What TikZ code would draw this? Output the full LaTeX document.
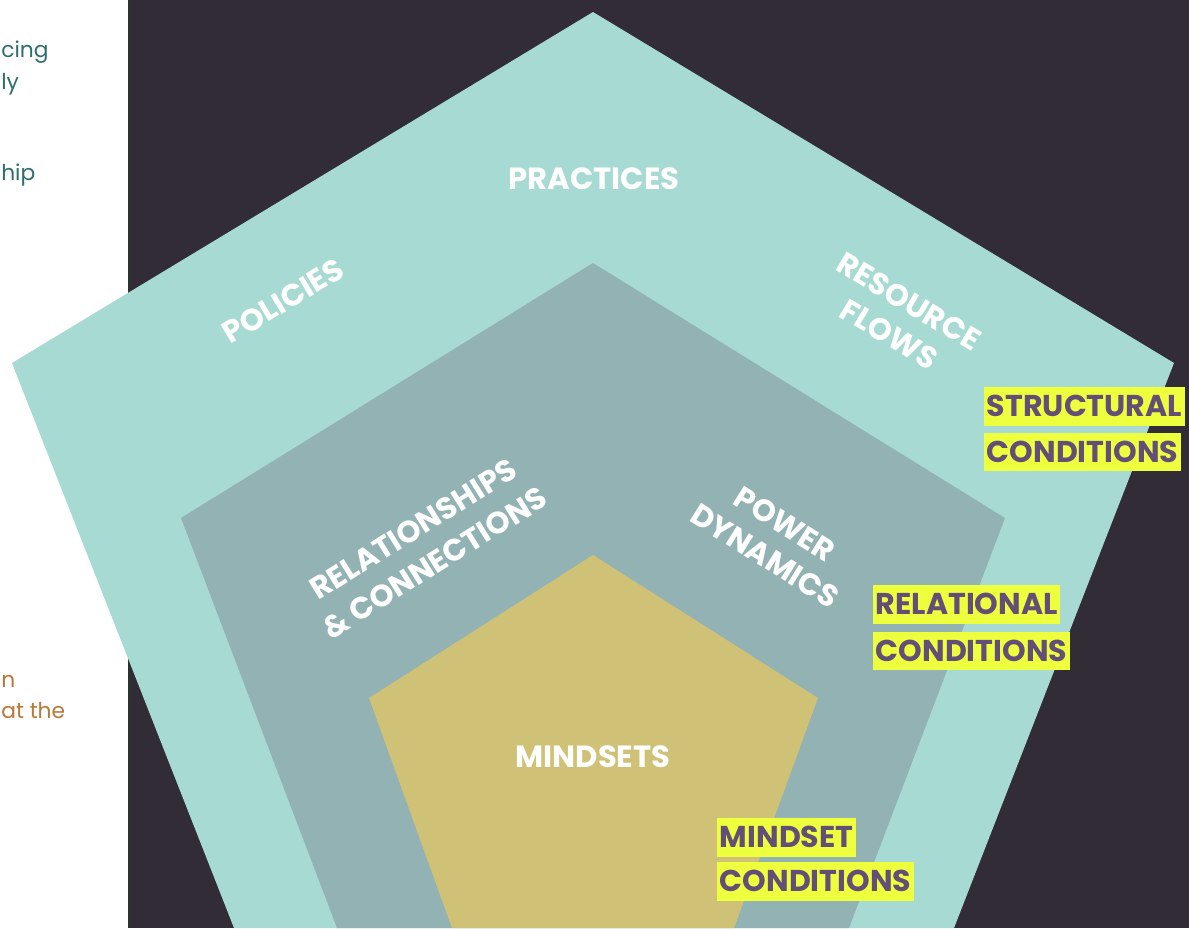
\documentclass[tikz,border=0pt]{standalone}
\usepackage{fontspec}
\setmainfont{Poppins}
\usetikzlibrary{positioning}

\definecolor{nightbg}{HTML}{322C37}
\definecolor{outerteal}{HTML}{A6DAD2}
\definecolor{midslate}{HTML}{93B2B4}
\definecolor{innergold}{HTML}{CFC276}
\definecolor{hlyellow}{HTML}{EDFF3D}
\definecolor{hlpurple}{HTML}{634E78}
\definecolor{noteteal}{HTML}{2F6E70}
\definecolor{noteochre}{HTML}{B8793A}
\definecolor{edgegreen}{HTML}{1F3A2C}

\tikzset{
  % Ring label: white caps set along a pentagon edge
  ringlabel/.style={text=white, align=center, inner sep=0pt,
                    font=\bfseries\fontsize{21.8}{27}\selectfont},
  % Condition tag: one highlighted line of text
  condtag/.style={fill=hlyellow, text=hlpurple, anchor=north west,
                  inner xsep=0.065cm, inner ysep=0.23cm,
                  text height=0.5cm, text depth=0pt,
                  font=\bfseries\fontsize{21.4}{24}\selectfont},
  % Running text of the page beside the figure
  sidenote/.style={anchor=base west, inner sep=0pt,
                   font=\fontsize{15.5}{18}\selectfont}
}

\begin{document}
\begin{tikzpicture}[x=0.025cm, y=-0.025cm]
\useasboundingbox (0,0) rectangle (1189,928);

% ============== Page and dark panel ==============
\fill[white] (0,0) rectangle (1189,928);
\fill[nightbg] (128,0) rectangle (1189,928);
\draw[edgegreen, line width=0.6pt] (128,0) -- (128,928);

\node[sidenote, text=noteteal] (noteA) at (1,57) {cing};
\node[sidenote, text=noteteal] (noteB) at (1,89) {ly};
\node[sidenote, text=noteteal] (noteC) at (1,180) {hip};
\node[sidenote, text=noteochre] (noteD) at (1,687) {n};
\node[sidenote, text=noteochre] (noteE) at (1,718) {at the};

% ============== Nested pentagons ==============
\fill[outerteal] (593,12) -- (1174,363) -- (954,928) -- (234,928) -- (12,363) -- cycle;
\fill[midslate] (593,263) -- (1005,518) -- (849,928) -- (337,928) -- (181,518) -- cycle;
\fill[innergold] (593,555) -- (818,698) -- (734,928) -- (452,928) -- (369,698) -- cycle;

% ============== Ring labels ==============
\node[ringlabel] (practices) at (594,179) {PRACTICES};
\node[ringlabel, rotate=31] (policies) at (283,301) {POLICIES};
\node[ringlabel, rotate=-31] (resflows) at (899,318) {RESOURCE\\FLOWS};
\node[ringlabel, rotate=32, font=\bfseries\fontsize{21.8}{28.5}\selectfont] (relconn) at (424,546) {RELATIONSHIPS\\\& CONNECTIONS};
\node[ringlabel, rotate=-32] (power) at (775,540) {POWER\\DYNAMICS};
\node[ringlabel] (mindsets) at (593,757) {MINDSETS};

% ============== Condition tags ==============
\node[condtag] (structA) at (984,387) {STRUCTURAL};
\node[condtag, below=0.17cm of structA.south west, anchor=north west] (structB) {CONDITIONS};

\node[condtag] (relA) at (873,585) {RELATIONAL};
\node[condtag, below=0.19cm of relA.south west, anchor=north west] (relB) {CONDITIONS};

\node[condtag] (mindA) at (717,818) {MINDSET};
\node[condtag, below=0.13cm of mindA.south west, anchor=north west] (mindB) {CONDITIONS};

\end{tikzpicture}
\end{document}
